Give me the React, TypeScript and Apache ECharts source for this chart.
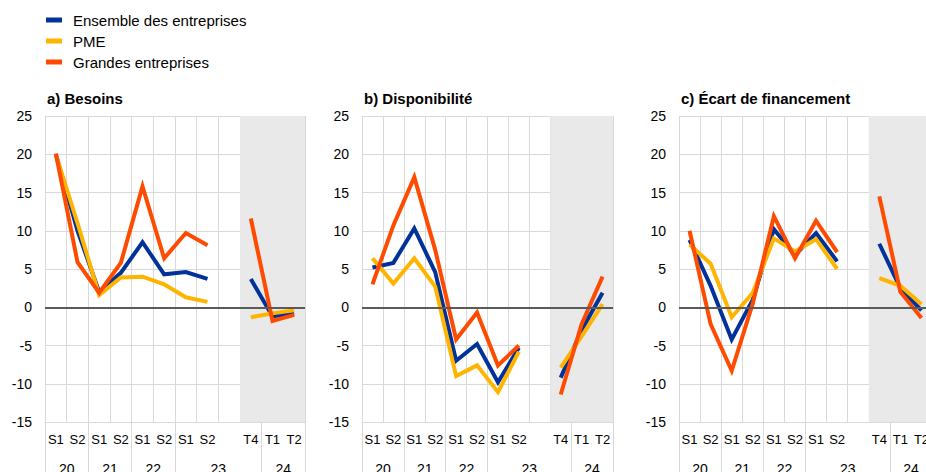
import React, { useEffect, useRef } from "react";
import * as echarts from "echarts";

const categories = ["S1", "S2", "S1", "S2", "S1", "S2", "S1", "S2", "", "T4", "T1", "T2"];
// year labels placed at category boundaries (helper value axis 0..12)
const yearPositions = [1, 3, 5, 8, 11];
const yearLabels = ["20", "21", "22", "23", "24"];
const groupStarts = [0, 2, 4, 6, 10, 12];
const shadeFrom = 9;
const shadeTo = 12;

const panelTitles = ["a) Besoins", "b) Disponibilité", "c) Écart de financement"];
const seriesNames = ["Ensemble des entreprises", "PME", "Grandes entreprises"];
const seriesColors = ["#003299", "#FFB400", "#FF4B00"];

const besoinsEnsemble = [20, 10, 2, 4.5, 8.5, 4.3, 4.6, 3.7, null, 3.7, -1.2, -0.8];
const besoinsPME = [20, 11, 1.6, 3.9, 4.0, 3.0, 1.3, 0.7, null, -1.3, -0.8, -0.4];
const besoinsGrandes = [20.1, 5.9, 1.9, 5.8, 15.8, 6.4, 9.7, 8.1, null, 11.6, -1.8, -1.0];

const dispoEnsemble = [5.2, 5.8, 10.3, 4.6, -7.0, -4.8, -9.8, -5.3, null, -9.2, -3.0, 1.9];
const dispoPME = [6.4, 3.1, 6.4, 2.7, -9.0, -7.6, -11.1, -5.8, null, -7.9, -3.8, 0.4];
const dispoGrandes = [3.0, 10.7, 17.0, 7.5, -4.2, -0.7, -7.6, -5.0, null, -11.4, -2.2, 4.0];

const ecartEnsemble = [8.8, 2.8, -4.2, 1.0, 10.2, 6.8, 9.7, 6.0, null, 8.3, 2.5, -0.4];
const ecartPME = [8.2, 5.7, -1.3, 1.9, 9.0, 7.3, 8.9, 5.0, null, 3.8, 2.8, 0.4];
const ecartGrandes = [10.0, -2.2, -8.3, 0.5, 11.9, 6.4, 11.3, 7.2, null, 14.5, 2.0, -1.4];

const panelData = [
  [besoinsEnsemble, besoinsPME, besoinsGrandes],
  [dispoEnsemble, dispoPME, dispoGrandes],
  [ecartEnsemble, ecartPME, ecartGrandes],
];

const yMin = -15;
const yMax = 25;
const yStep = 5;

const FONT = '"Liberation Sans", Arial, Helvetica, sans-serif';
const GRID_COLOR = "#d9d9d9";

const gridBoxes = [
  { left: 45, top: 116, width: 260, height: 306 },
  { left: 362, top: 116, width: 251, height: 306 },
  { left: 679, top: 116, width: 253, height: 306 },
];

export default function App() {
  const ref = useRef<HTMLDivElement>(null);

  useEffect(() => {
    if (!ref.current) return;
    const chart = echarts.init(ref.current, null, { renderer: "svg" });

    const xAxis: any[] = [];
    const yAxis: any[] = [];
    const series: any[] = [];
    const title: any[] = [];
    const grid: any[] = [];
    const n = gridBoxes.length;

    // main grids 0..2, helper overlay grids 3..5
    gridBoxes.forEach((g) => grid.push({ ...g, containLabel: false, outerBoundsMode: "none" }));
    gridBoxes.forEach((g) => grid.push({ ...g, containLabel: false, outerBoundsMode: "none" }));

    gridBoxes.forEach((g, i) => {
      title.push({
        text: panelTitles[i],
        left: g.left + 2,
        top: 91,
        padding: 0,
        textStyle: { fontFamily: FONT, fontSize: 15, fontWeight: "bold", color: "#000" },
      });
      xAxis[i] = {
        type: "category",
        gridIndex: i,
        data: categories,
        boundaryGap: true,
        axisLine: { show: true, onZero: false, lineStyle: { color: GRID_COLOR, width: 1 } },
        axisTick: {
          show: true,
          interval: (index: number) => groupStarts.includes(index),
          length: 60,
          lineStyle: { color: GRID_COLOR, width: 1 },
        },
        axisLabel: {
          interval: 0,
          margin: 11,
          fontFamily: FONT,
          fontSize: 13,
          color: "#000",
        },
        splitLine: { show: true, interval: 0, lineStyle: { color: GRID_COLOR, width: 1 } },
      };
      xAxis[n + i] = {
        type: "value",
        gridIndex: n + i,
        position: "bottom",
        min: 0,
        max: 12,
        interval: 1,
        axisLine: { show: false, onZero: false },
        axisTick: { show: false },
        splitLine: { show: false },
        axisLabel: {
          margin: 40,
          fontFamily: FONT,
          fontSize: 14,
          color: "#000",
          showMinLabel: true,
          showMaxLabel: true,
          formatter: (v: number) => {
            const k = yearPositions.indexOf(Math.round(v));
            return k >= 0 ? yearLabels[k] : "";
          },
        },
      };
      yAxis[i] = {
        type: "value",
        gridIndex: i,
        min: yMin,
        max: yMax,
        interval: yStep,
        axisLine: { show: false },
        axisTick: { show: false },
        axisLabel: { margin: 13, fontFamily: FONT, fontSize: 14, color: "#000" },
        splitLine: { show: true, lineStyle: { color: GRID_COLOR, width: 1 } },
      };
      yAxis[n + i] = {
        type: "value",
        gridIndex: n + i,
        min: yMin,
        max: yMax,
        interval: yStep,
        show: true,
        axisLine: { show: false },
        axisTick: { show: false },
        axisLabel: { show: false },
        splitLine: { show: false },
      };
    });

    gridBoxes.forEach((g, i) => {
      // shaded zone on helper axis
      series.push({
        type: "line",
        xAxisIndex: n + i,
        yAxisIndex: n + i,
        data: [],
        z: -1,
        silent: true,
        markArea: {
          silent: true,
          itemStyle: { color: "#e9e9e9" },
          data: [[{ xAxis: shadeFrom }, { xAxis: shadeTo }]],
        },
      });
      // zero line
      series.push({
        type: "line",
        xAxisIndex: n + i,
        yAxisIndex: n + i,
        data: [],
        z: 1,
        silent: true,
        markLine: {
          silent: true,
          symbol: ["none", "none"],
          label: { show: false },
          lineStyle: { color: "#5a5a5a", width: 2, type: "solid" },
          data: [{ yAxis: 0 }],
        },
      });
      panelData[i].forEach((vals, s) => {
        series.push({
          name: seriesNames[s],
          type: "line",
          xAxisIndex: i,
          yAxisIndex: i,
          data: vals,
          showSymbol: false,
          symbol: "none",
          connectNulls: false,
          z: 2 + s,
          lineStyle: { color: seriesColors[s], width: 4, join: "miter" },
          itemStyle: { color: seriesColors[s] },
        });
      });
    });

    chart.setOption({
      animation: false,
      backgroundColor: "#ffffff",
      title,
      legend: {
        data: seriesNames.map((nm, s) => ({ name: nm, itemStyle: { color: seriesColors[s] } })),
        orient: "vertical",
        left: 46,
        top: 12,
        padding: 0,
        itemGap: 5,
        itemWidth: 16,
        itemHeight: 5,
        icon: "rect",
        selectedMode: false,
        textStyle: { fontFamily: FONT, fontSize: 15, color: "#000", padding: [0, 0, 0, 6], lineHeight: 16 },
      },
      grid,
      xAxis,
      yAxis,
      series,
    });

    return () => chart.dispose();
  }, []);

  return (
    <div
      ref={ref}
      style={{ position: "fixed", left: 0, top: 0, width: 926, height: 472, background: "#fff" }}
    />
  );
}
